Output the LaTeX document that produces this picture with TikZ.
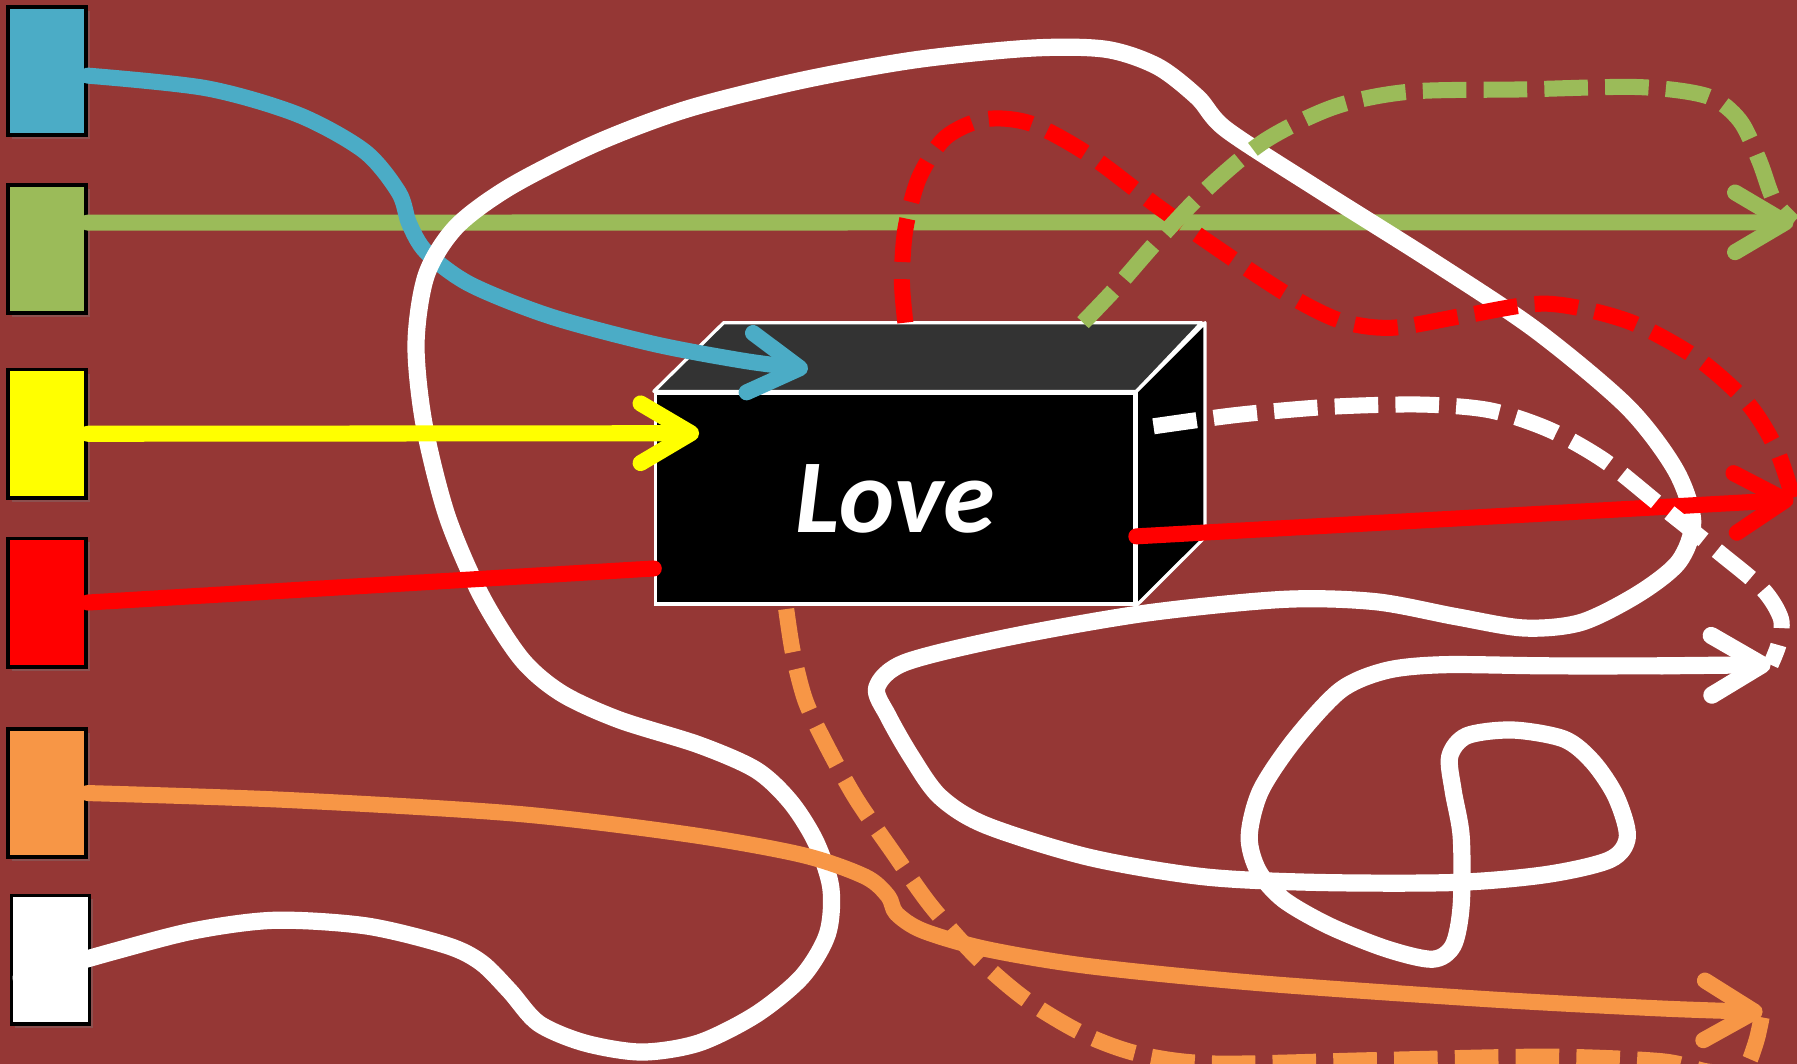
\documentclass[tikz,border=0pt]{standalone}
\usepackage{fontspec}
\usepackage{xcolor}
\usepackage{tikz}
\newfontfamily\lovefont{Carlito}
\definecolor{bgred}{HTML}{953735}
\definecolor{lineblue}{HTML}{4BACC6}
\definecolor{linegreen}{HTML}{9BBB59}
\definecolor{lineyellow}{HTML}{FFFF00}
\definecolor{linered}{HTML}{FF0000}
\definecolor{lineorange}{HTML}{F79646}
\definecolor{topgray}{HTML}{333333}
\usetikzlibrary{arrows.meta, positioning, shadows}

\begin{document}
\begin{tikzpicture}[
        x=0.01cm, y=-0.01cm,
        srcbox/.style={rectangle, draw=black, line width=0.9pt, minimum width=0.68cm, minimum height=1.12cm, inner sep=0pt, drop shadow={shadow xshift=1pt, shadow yshift=-1pt, opacity=0.35}},
        loveface/.style={rectangle, draw=white, line width=0.8pt, fill=black, minimum width=4.18cm, minimum height=1.84cm, inner sep=0pt, text=white, font=\lovefont\bfseries\itshape\fontsize{26}{30}\selectfont},
        facet/.style={draw=white, line width=0.8pt, line join=round},
        flow/.style={line width=0.14cm, line cap=round, line join=round},
        dashflow/.style={line width=0.14cm, dash pattern=on 0.38cm off 0.15cm},
        barb/.style={-{Straight Barb[length=4.4mm, width=5.2mm, round]}}
    ]

    \useasboundingbox (0,0) rectangle (1568,928);
    \clip (0,0) rectangle (1568,928);
    \fill[bgred] (0,0) rectangle (1568,928);

    \node[srcbox, fill=lineblue] (bluebox) at (41,62) {};
    \node[srcbox, fill=linegreen, below=0.40cm of bluebox] (greenbox) {};
    \node[srcbox, fill=lineyellow, below=0.46cm of greenbox] (yellowbox) {};
    \node[srcbox, fill=linered, below=0.32cm of yellowbox] (redbox) {};
    \node[srcbox, fill=lineorange, below=0.51cm of redbox] (orangebox) {};
    \node[srcbox, fill=white, below=0.30cm of orangebox, xshift=0.03cm] (whitebox) {};

    \node[loveface] (love) at (781,435) {Love};
    \draw[facet, fill=topgray] (love.north west) -- ++(61,-60) -- ++(417,0) -- (love.north east) -- cycle;
    \draw[facet, fill=black] (love.north east) -- ++(60,-60) -- ++(0,187) -- (love.south east) -- cycle;

    \coordinate (bluetip) at (705,322);
    \coordinate (greentip) at (1565,194);
    \coordinate (yellowtip) at (610,378);
    \coordinate (redtip) at (1565,436);
    \coordinate (whitetip) at (1545,580);
    \coordinate (orangetip) at (1538,883);
    \coordinate (blueout) at ([yshift=-0.04cm]bluebox.east);
    \coordinate (greenout) at ([shift={(164,-60)}]love.north);
    \coordinate (redout) at ([shift={(9,-60)}]love.north);
    \coordinate (whiteout) at ([shift={(15,-63)}]love.east);
    \coordinate (orangeout) at ([shift={(-95,3)}]love.south);
    \coordinate (whitestart) at ([shift={(10,16)}]whitebox.west);

    \draw[flow, linegreen, barb] ([yshift=0.23cm]greenbox.east) -- (greentip);
    \draw[flow, lineblue, barb] plot[smooth] coordinates {(blueout) (180,77) (260,100) (318,132) (348,168) (357,195) (372,220) (410,248) (480,276) (570,300) (650,315) (bluetip)};
    \draw[flow, white, line width=0.15cm] plot[smooth] coordinates {(whitestart) (100,830) (170,812) (240,803) (320,808) (390,825) (420,840) (445,865) (470,893) (510,910) (560,918) (610,910) (660,885) (700,852) (722,815) (725,775) (712,735) (690,700) (660,672) (610,650) (540,628) (490,605) (455,575) (420,520) (390,450) (370,370) (363,300) (372,240) (398,198) (445,163) (520,125) (600,95) (700,70) (800,52) (900,42) (965,43) (1010,58) (1045,85) (1070,113) (1150,165) (1250,228) (1340,288) (1420,355) (1462,410) (1477,455) (1465,490) (1430,518) (1380,543) (1330,548) (1270,538) (1200,525) (1120,523) (1000,535) (880,556) (790,578) (765,600) (775,625) (795,660) (820,695) (860,720) (950,748) (1050,765) (1150,770) (1270,770) (1350,763) (1405,750) (1420,730) (1410,695) (1390,665) (1365,645) (1320,637) (1280,642) (1265,660) (1268,690) (1275,730) (1275,790) (1268,825) (1250,837) (1210,828) (1160,808) (1120,785) (1098,760) (1090,730) (1100,690) (1130,645) (1170,602) (1210,585) (1260,580) (1350,581) (1450,581)};
    \draw[flow, white, line width=0.15cm, barb] (1450,581) -- (whitetip);
    \draw[dashflow, linered] plot[smooth] coordinates {(redout) (787,245) (790,200) (802,155) (825,120) (860,104) (900,108) (950,135) (1010,180) (1070,222) (1125,258) (1170,280) (1215,286) (1280,275) (1350,265) (1420,280) (1480,312) (1525,352) (1550,392) (redtip)};
    \draw[dashflow, linegreen] plot[smooth] coordinates {(greenout) (975,250) (1010,210) (1055,163) (1105,122) (1165,93) (1230,80) (1330,78) (1430,76) (1490,84) (1518,105) (1535,140) (1548,175) (greentip)};
    \draw[flow, linered] (redbox.east) -- ([yshift=-0.61cm]love.west);
    \draw[flow, linered, barb] ([yshift=-0.33cm]love.east) -- (redtip);
    \draw[dashflow, white] plot[smooth] coordinates {(whiteout) (1080,362) (1160,355) (1240,353) (1300,358) (1352,375) (1400,402) (1450,442) (1500,482) (1538,514) (1554,540) (1552,562) (whitetip)};
    \draw[flow, lineyellow, barb] (yellowbox.east) -- (yellowtip);
    \draw[flow, lineorange, barb] plot[smooth] coordinates {(orangebox.east) (250,698) (450,710) (600,728) (700,746) (755,765) (775,782) (782,797) (805,812) (860,828) (950,843) (1100,858) (1300,872) (1450,880) (orangetip)};
    \draw[dashflow, lineorange] plot[smooth] coordinates {(orangeout) (692,570) (703,612) (722,652) (747,697) (778,742) (812,790) (852,835) (895,872) (945,902) (995,920) (1060,928) (1200,925) (1350,922) (1450,926) (1490,935) (1520,935) (1532,910) (orangetip)};

\end{tikzpicture}
\end{document}
